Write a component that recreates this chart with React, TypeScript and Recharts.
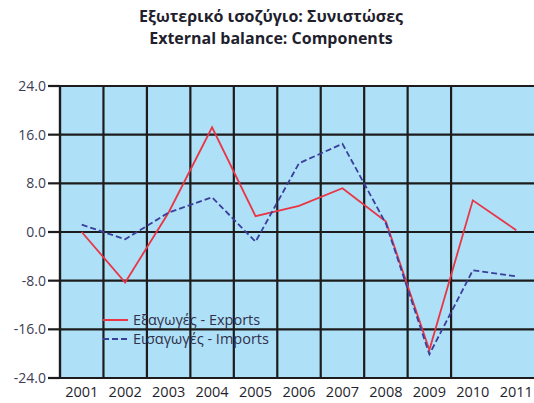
import React from "react";
import { LineChart, Line, XAxis, YAxis, CartesianGrid, Legend } from "recharts";

const years = ["2001", "2002", "2003", "2004", "2005", "2006", "2007", "2008", "2009", "2010", "2011"];
const exportsPct = [0.0, -8.3, 3.2, 17.2, 2.6, 4.3, 7.2, 1.7, -19.4, 5.2, 0.3];
const importsPct = [1.2, -1.2, 3.2, 5.7, -1.6, 11.3, 14.5, 1.4, -20.1, -6.3, -7.3];
const yTicks = [-24, -16, -8, 0, 8, 16, 24];

const seriesKeys = ["exp", "imp"];
const seriesNames: Record<string, string> = { exp: "Εξαγωγές - Exports", imp: "Εισαγωγές - Imports" };

const data = years.map((y, i) => ({ x: i + 1, year: y, exp: exportsPct[i], imp: importsPct[i] }));
// category boundaries, used only to place the vertical grid lines between years
const boundaries = years.map((_, i) => i + 0.5).concat(years.length + 0.5);
const centers = years.map((_, i) => i + 1);

const FONT = "'Open Sans', 'DejaVu Sans', sans-serif";
const GRID = "#1c1c1c";

function LegendBox({ payload }: any) {
  const items = seriesKeys
    .map((k) => (payload || []).find((p: any) => p.dataKey === k))
    .filter(Boolean);
  return (
    <div style={{ fontFamily: FONT, fontSize: 14.5, color: "#30304a" }}>
      {items.map((p: any) => (
        <div key={p.value} style={{ display: "flex", alignItems: "center", height: 19, whiteSpace: "nowrap" }}>
          <svg width={25} height={6} style={{ marginRight: 5 }}>
            <line
              x1={0}
              y1={3}
              x2={25}
              y2={3}
              stroke={p.color}
              strokeWidth={2}
              strokeDasharray={p.dataKey === "imp" ? "6 3" : undefined}
            />
          </svg>
          <span>{p.value}</span>
        </div>
      ))}
    </div>
  );
}

export default function App() {
  return (
    <div
      style={{
        position: "absolute",
        left: 0,
        top: 0,
        width: 534,
        height: 403,
        overflow: "hidden",
        background: "#fff",
      }}
    >
      <div
        style={{
          position: "absolute",
          left: 0,
          width: 542,
          top: 5,
          textAlign: "center",
          fontFamily: FONT,
          fontWeight: 700,
          fontSize: 16,
          lineHeight: "22px",
          color: "#1f1f2e",
        }}
      >
        <div>Εξωτερικό ισοζύγιο: Συνιστώσες</div>
        <div>External balance: Components</div>
      </div>
      <LineChart
        width={540}
        height={403}
        data={data}
        margin={{ top: 86, right: 2, bottom: 0, left: 0 }}
        style={{ position: "absolute", left: 0, top: 0 }}
      >
        <CartesianGrid
          xAxisId="grid"
          stroke={GRID}
          strokeWidth={2.2}
          fill="#aee0f7"
          fillOpacity={1}
        />
        <XAxis
          xAxisId="main"
          type="number"
          dataKey="x"
          domain={[0.5, years.length + 0.5]}
          ticks={centers}
          interval={0}
          tickFormatter={(v) => years[v - 1]}
          axisLine={false}
          tickLine={false}
          height={25}
          tick={{ fontFamily: FONT, fontSize: 14.5, fill: "#1f1f2e" }}
          tickMargin={3}
        />
        <XAxis
          xAxisId="grid"
          type="number"
          dataKey="x"
          domain={[0.5, years.length + 0.5]}
          ticks={boundaries}
          height={0}
          hide
        />
        <YAxis
          domain={[-24, 24]}
          ticks={yTicks}
          width={60}
          interval={0}
          tickFormatter={(v) => v.toFixed(1)}
          axisLine={{ stroke: GRID, strokeWidth: 2.2 }}
          tickLine={{ stroke: GRID, strokeWidth: 2.2 }}
          tickSize={12}
          tickMargin={2}
          tick={{ fontFamily: FONT, fontSize: 14, fill: "#3d3d55" }}
        />
        <Legend
          layout="horizontal"
          verticalAlign="middle"
          align="center"
          content={<LegendBox />}
          wrapperStyle={{ position: "absolute", left: 103, top: 310, width: 220 }}
        />
        <Line
          xAxisId="main"
          type="linear"
          dataKey="exp"
          name={seriesNames.exp}
          stroke="#ea3545"
          strokeWidth={1.8}
          dot={false}
          isAnimationActive={false}
        />
        <Line
          xAxisId="main"
          type="linear"
          dataKey="imp"
          name={seriesNames.imp}
          stroke="#3b3f9c"
          strokeWidth={1.8}
          strokeDasharray="6 3"
          dot={false}
          isAnimationActive={false}
        />
      </LineChart>
    </div>
  );
}
